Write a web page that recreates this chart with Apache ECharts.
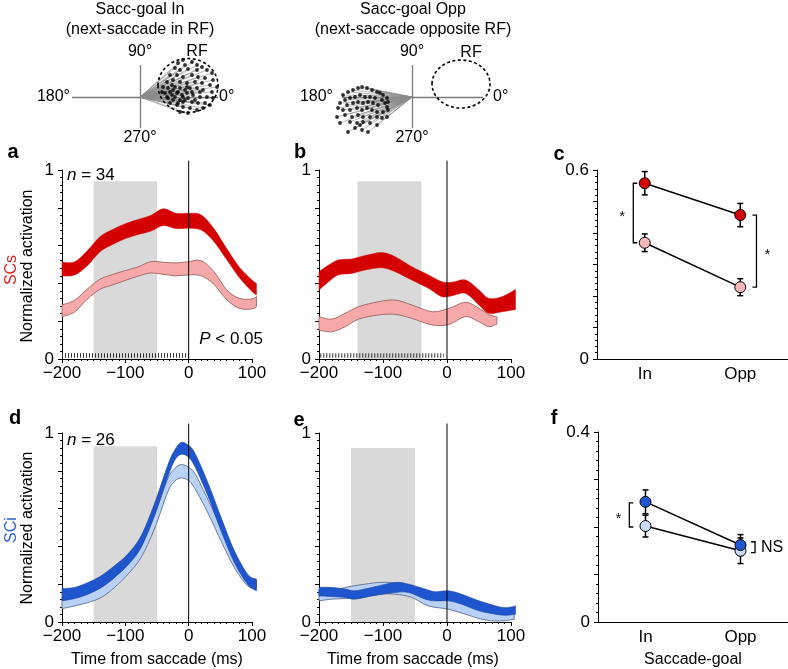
<!DOCTYPE html>
<html><head><meta charset="utf-8">
<script src="https://cdn.jsdelivr.net/npm/echarts@6/dist/echarts.min.js"></script>
<style>html,body{margin:0;padding:0;background:#fff}#c{width:788px;height:669px}</style>
</head><body><div id="c"></div>
<script>
// ---------------- data ----------------
const timeTicks = [-200, -100, 0, 100];
const goalCats = ['In', 'Opp'];

// panel a (SCs, sacc-goal In)
const aTime = [-200,-180,-160,-140,-120,-100,-80,-60,-40,-20,0,20,40,60,80,100,107];
const aDarkHi = [.512,.514,.573,.647,.685,.716,.738,.759,.795,.771,.771,.762,.689,.584,.486,.418,.400];
const aDarkLo = [.439,.445,.494,.568,.606,.637,.659,.676,.706,.690,.692,.682,.621,.526,.431,.357,.339];
const aLightHi = [.286,.311,.370,.422,.447,.468,.487,.515,.512,.508,.515,.520,.462,.366,.321,.318,.330];
const aLightLo = [.224,.249,.317,.369,.392,.416,.438,.455,.448,.440,.445,.440,.395,.314,.268,.265,.277];
const aShade = [-150, -50, 0.94];
const aSig = [-200, 0];

// panel b (SCs, sacc-goal Opp)
const bDarkTime = [-200,-185,-170,-149,-128,-102,-81,-55,-29,-8,8,29,50,65,86,107];
const bDarkHi = [.462,.497,.524,.529,.547,.563,.541,.488,.445,.409,.406,.418,.365,.321,.330,.368];
const bDarkLo = [.365,.409,.445,.453,.471,.483,.462,.418,.374,.330,.335,.347,.286,.242,.250,.262];
const bLightTime = [-200,-180,-159,-138,-107,-81,-55,-23,3,29,50,65,78];
const bLightHi = [.224,.211,.242,.277,.303,.312,.286,.250,.268,.300,.268,.236,.222];
const bLightLo = [.153,.144,.171,.211,.233,.236,.215,.180,.183,.224,.197,.171,.185];
const bShade = [-140, -40, 0.94];
const bSig = [-198, -5];

// panel c (SCs means)
const cDark = [0.558, 0.457];
const cDarkErr = [0.037, 0.037];
const cLight = [0.369, 0.228];
const cLightErr = [0.028, 0.027];
const cBrackets = [[-0.12, 0.369, 0.558, 1], [1.17, 0.228, 0.457, -1]];
const cBracketText = ['*', '*'];

// panel d (SCi, sacc-goal In)
const dTime = [-200,-180,-159,-138,-117,-96,-75,-54,-33,-22,-12,-1,10,31,52,72,93,107];
const dDarkHi = [.177,.183,.209,.245,.298,.360,.457,.626,.830,.910,.950,.936,.892,.732,.546,.378,.253,.227];
const dDarkLo = [.112,.124,.147,.183,.236,.301,.395,.564,.768,.856,.887,.874,.821,.662,.475,.316,.200,.165];
const dLightHi = [.130,.138,.156,.183,.236,.316,.404,.564,.759,.812,.833,.820,.785,.644,.493,.342,.236,.218];
const dLightLo = [.071,.085,.103,.130,.183,.253,.342,.493,.688,.745,.762,.750,.705,.573,.422,.289,.191,.183];
const dShade = [-150, -50, 0.93];

// panel e (SCi, sacc-goal Opp)
const eDarkTime = [-200,-180,-159,-144,-117,-81,-60,-34,-19,2,23,50,76,92,107];
const eDarkHi = [.183,.183,.174,.165,.183,.209,.200,.174,.160,.165,.147,.112,.085,.076,.085];
const eDarkLo = [.138,.135,.130,.121,.138,.156,.156,.121,.112,.112,.094,.059,.041,.036,.041];
const eLightTime = [-200,-180,-159,-138,-107,-81,-55,-29,2,29,55,81,105];
const eLightHi = [.170,.165,.183,.195,.209,.206,.177,.156,.138,.121,.085,.059,.050];
const eLightLo = [.112,.121,.124,.130,.147,.147,.130,.085,.068,.041,.014,.005,.014];
const eShade = [-150, -50, 0.92];

// panel f (SCi means)
const fDark = [0.253, 0.162];
const fDarkErr = [0.025, 0.022];
const fLight = [0.202, 0.150];
const fLightErr = [0.023, 0.027];
const fBrackets = [[-0.17, 0.200, 0.251, 1], [1.153, 0.146, 0.169, -1]];
const fBracketText = ['*', 'NS'];

// schematics: saccade end points (origin = fixation)
const schLAxes = [[[-68,0],[78,0]], [[0,32],[0,-31]]];
const schRAxes = [[[-70,0],[71,0]], [[0,32],[0,-31]]];
const rfL = [48, 11.5, 30, 27];
const rfR = [49, 13, 29, 24];
const schLDots = [[38,34],[45,32],[52,35],[35,29],[40,27],[48,28],[57,32],[62,30],[67,27],[72,24],[30,22],[37,22],[43,20],[52,22],[58,20],[65,19],[73,17],[27,15],[33,17],[40,15],[47,14],[55,15],[62,14],[70,12],[23,10],[28,9],[35,10],[40,9],[45,7],[50,9],[57,9],[63,7],[72,5],[77,10],[25,4],[30,5],[37,4],[42,2],[47,4],[53,2],[60,0],[67,0],[73,-1],[28,-1],[33,-3],[40,-3],[45,-3],[52,-5],[58,-6],[65,-6],[30,-6],[37,-8],[43,-10],[50,-11],[57,-13],[63,-11],[70,-8],[40,-15],[48,-16],[27,0],[32,12],[22,5],[57,27],[43,37],[32,2],[35,0],[38,5],[43,0],[48,-1],[33,7],[47,10],[52,5],[55,-3],[38,-6],[43,-5],[60,5]];
const schRDots = [[-69,2],[-64,5],[-59,7],[-54,9],[-50,10],[-45,9],[-40,7],[-35,5],[-32,4],[-29,2],[-25,-1],[-24,-5],[-27,-6],[-67,-3],[-62,-1],[-57,0],[-52,2],[-47,0],[-42,0],[-37,-1],[-30,-3],[-72,-6],[-65,-8],[-59,-6],[-54,-5],[-49,-6],[-44,-5],[-39,-6],[-34,-8],[-25,-10],[-74,-11],[-69,-13],[-62,-13],[-55,-11],[-50,-13],[-45,-11],[-40,-13],[-35,-15],[-29,-15],[-24,-13],[-75,-20],[-67,-18],[-60,-20],[-54,-18],[-49,-20],[-42,-20],[-35,-20],[-30,-21],[-25,-20],[-72,-26],[-62,-25],[-55,-26],[-49,-25],[-42,-26],[-35,-28],[-57,-31],[-50,-33],[-44,-35],[-64,-35],[-52,-28]];

// ---------------- styling ----------------
const FONT = '"Liberation Sans", Arial, Helvetica, sans-serif';
const RED = '#d40000', PINK = '#f7a9a9', PINK_S = '#9e6262';
const BLUE = '#1f55cf', BLUE_S = '#163f9c', LBLUE = '#b9d0f7', LBLUE_S = '#5c6f93';
const SHADE = '#d9d9d9';

function smoothSeg(pts) {
  let d = '';
  for (let i = 0; i < pts.length - 1; i++) {
    const p0 = pts[i - 1] || pts[i], p1 = pts[i], p2 = pts[i + 1], p3 = pts[i + 2] || p2;
    const c1x = p1[0] + (p2[0] - p0[0]) / 6, c1y = p1[1] + (p2[1] - p0[1]) / 6;
    const c2x = p2[0] - (p3[0] - p1[0]) / 6, c2y = p2[1] - (p3[1] - p1[1]) / 6;
    d += ' C' + c1x + ' ' + c1y + ' ' + c2x + ' ' + c2y + ' ' + p2[0] + ' ' + p2[1];
  }
  return d;
}
function band(ax, times, lo, hi, fill, stroke, lw, z) {
  return {
    type: 'custom', xAxisIndex: ax, yAxisIndex: ax, z: z, silent: true, clip: false,
    data: [[times[0], lo[0]]],
    renderItem: function (p, api) {
      const up = times.map((t, i) => api.coord([t, hi[i]]));
      const dn = times.map((t, i) => api.coord([t, lo[i]])).reverse();
      const d = 'M' + up[0][0] + ' ' + up[0][1] + smoothSeg(up) + ' L' + dn[0][0] + ' ' + dn[0][1] + smoothSeg(dn) + ' Z';
      return { type: 'path', shape: { pathData: d }, style: { fill: fill, stroke: stroke, lineWidth: lw } };
    }
  };
}
function shade(ax, s) {
  return {
    type: 'custom', xAxisIndex: ax, yAxisIndex: ax, z: 1, silent: true,
    data: [[s[0], s[2]]],
    renderItem: function (p, api) {
      const a = api.coord([s[0], s[2]]), b = api.coord([s[1], 0]);
      return { type: 'rect', shape: { x: a[0], y: a[1], width: b[0] - a[0], height: b[1] - a[1] }, style: { fill: SHADE } };
    }
  };
}
function zeroLine(ax) {
  return { type: 'line', xAxisIndex: ax, yAxisIndex: ax, z: 8, silent: true, clip: false, symbol: 'none',
    data: [[0, 0], [0, 1.05]], lineStyle: { color: '#000', width: 1 } };
}
function sigLine(ax, s) {
  return { type: 'line', xAxisIndex: ax, yAxisIndex: ax, z: 2, silent: true, symbol: 'none',
    data: [[s[0], 0.018], [s[1], 0.018]], lineStyle: { color: '#333', width: 4.5, type: [1, 2], cap: 'butt' } };
}
function errBars(ax, mean, err) {
  return {
    type: 'custom', xAxisIndex: ax, yAxisIndex: ax, z: 3, silent: true,
    data: mean.map((m, i) => [i, m - err[i], m + err[i]]),
    renderItem: function (p, api) {
      const lo = api.coord([api.value(0), api.value(1)]);
      const hi = api.coord([api.value(0), api.value(2)]);
      const w = 3, st = { stroke: '#000', lineWidth: 1.5 };
      return { type: 'group', children: [
        { type: 'line', shape: { x1: lo[0], y1: lo[1], x2: hi[0], y2: hi[1] }, style: st },
        { type: 'line', shape: { x1: lo[0] - w, y1: lo[1], x2: lo[0] + w, y2: lo[1] }, style: st },
        { type: 'line', shape: { x1: hi[0] - w, y1: hi[1], x2: hi[0] + w, y2: hi[1] }, style: st }
      ] };
    }
  };
}
function meanLine(ax, mean, fill) {
  return { type: 'line', xAxisIndex: ax, yAxisIndex: ax, z: 4, silent: true, data: mean,
    symbol: 'circle', symbolSize: 11,
    lineStyle: { color: '#000', width: 1.5 },
    itemStyle: { color: fill, borderColor: '#000', borderWidth: 1 } };
}
function brackets(xAx, yAx, data, texts) {
  return {
    type: 'custom', xAxisIndex: xAx, yAxisIndex: yAx, z: 5, silent: true, clip: false,
    data: data,
    renderItem: function (p, api) {
      const x = api.value(0), dir = api.value(3);
      const a = api.coord([x, api.value(1)]), b = api.coord([x, api.value(2)]);
      const t = 4 * dir;
      const label = texts[p.dataIndex];
      const isStar = label === '*';
      const tx = isStar ? a[0] - dir * 11 : a[0] + 6;
      const ty = (a[1] + b[1]) / 2 + (isStar ? 4 : 0);
      return { type: 'group', children: [
        { type: 'polyline', shape: { points: [[a[0] + t, a[1]], a, b, [b[0] + t, b[1]]] }, style: { stroke: '#000', lineWidth: 1.3, fill: null } },
        { type: 'text', x: tx, y: ty, style: { text: label, fill: '#000', font: (isStar ? '14px ' : '16px ') + FONT,
          align: isStar ? 'center' : 'left', verticalAlign: 'middle', textAlign: isStar ? 'center' : 'left', textVerticalAlign: 'middle' } }
      ] };
    }
  };
}
function schSeries(ax, axes, dots, rf) {
  return [
    { type: 'lines', coordinateSystem: 'cartesian2d', xAxisIndex: ax + 8, yAxisIndex: ax + 6, z: 2, silent: true,
      data: axes.map(c => ({ coords: c })), lineStyle: { color: '#7a7a7a', width: 1.3, opacity: 1 } },
    { type: 'lines', coordinateSystem: 'cartesian2d', xAxisIndex: ax + 8, yAxisIndex: ax + 6, z: 3, silent: true,
      data: dots.map(d => ({ coords: [[0, 0], d] })), lineStyle: { color: '#8a8a8a', width: 0.7, opacity: 0.85 } },
    { type: 'scatter', xAxisIndex: ax + 8, yAxisIndex: ax + 6, z: 4, silent: true, symbolSize: 3.8,
      data: dots, itemStyle: { color: '#000' } },
    { type: 'custom', xAxisIndex: ax + 8, yAxisIndex: ax + 6, z: 5, silent: true, data: [rf],
      renderItem: function (p, api) {
        const c = api.coord([api.value(0), api.value(1)]);
        const s = api.size([api.value(2), api.value(3)]);
        return { type: 'ellipse', shape: { cx: c[0], cy: c[1], rx: s[0], ry: s[1] },
          style: { fill: null, stroke: '#000', lineWidth: 1.6, lineDash: [3, 2.5] } };
      } }
  ];
}

function timeX(g) {
  return { gridIndex: g, type: 'value', min: timeTicks[0], max: timeTicks[timeTicks.length - 1], interval: 100,
    axisLine: { onZero: false, lineStyle: { color: '#000', width: 1 } },
    axisTick: { length: 4, lineStyle: { color: '#000' } },
    minorTick: { show: true, splitNumber: 10, length: 2, lineStyle: { color: '#000' } },
    splitLine: { show: false }, minorSplitLine: { show: false },
    axisLabel: { fontSize: 17, color: '#000', fontFamily: FONT, margin: 6,
      formatter: v => String(v).replace('-', '\u2212') } };
}
function valY(g, max, interval) {
  return { gridIndex: g, type: 'value', min: 0, max: max, interval: interval, position: 'left',
    axisLine: { show: true, onZero: false, lineStyle: { color: '#000', width: 1 } },
    axisTick: { show: true, length: 4, lineStyle: { color: '#000' } },
    minorTick: { show: true, splitNumber: 5, length: 2, lineStyle: { color: '#000' } },
    splitLine: { show: false }, minorSplitLine: { show: false },
    axisLabel: { fontSize: 17, color: '#000', fontFamily: FONT, margin: 8,
      formatter: v => (Math.abs(v) < 1e-9 ? '0' : (Math.abs(v - max) < 1e-9 ? String(max) : '')) } };
}
function catX(g) {
  return { gridIndex: g, type: 'category', data: goalCats, boundaryGap: true,
    axisLine: { onZero: false, lineStyle: { color: '#000', width: 1 } },
    axisTick: { alignWithLabel: true, length: 4, lineStyle: { color: '#000' } },
    axisLabel: { fontSize: 17, color: '#000', fontFamily: FONT, margin: 7 } };
}
function hidden(g, min, max) { return { gridIndex: g, type: 'value', min: min, max: max, show: false, axisLine: { onZero: false } }; }

const G = (l, t, w, h) => ({ left: l, top: t, width: w, height: h, containLabel: false, outerBoundsMode: 'none' });

function txt(text, x, y, o) {
  o = o || {};
  return { type: 'text', x: x, y: y, rotation: o.rot || 0, silent: true,
    style: { text: text, fill: o.color || '#000', font: (o.weight || 'normal') + ' ' + (o.size || 16) + 'px ' + FONT,
      align: o.align || 'center', verticalAlign: 'middle', textAlign: o.align || 'center', textVerticalAlign: 'middle',
      rich: { i: { fontStyle: 'italic', fontSize: o.size || 16, fontFamily: FONT } } } };
}

const option = {
  animation: false,
  backgroundColor: '#fff',
  grid: [
    G(62, 170, 190, 189), G(319, 170, 192, 189), G(597, 170, 191, 189),
    G(62, 433, 190, 189), G(319, 433, 192, 189), G(598, 432, 190, 190),
    G(70, 57, 160, 80), G(322, 57, 180, 80)
  ],
  xAxis: [timeX(0), timeX(1), catX(2), timeX(3), timeX(4), catX(5),
    hidden(2, -0.5, 1.5), hidden(5, -0.5, 1.5), hidden(6, -70, 90), hidden(7, -90, 90)],
  yAxis: [valY(0, 1, 0.2), valY(1, 1, 0.2), valY(2, 0.6, 0.1), valY(3, 1, 0.2), valY(4, 1, 0.2), valY(5, 0.4, 0.1),
    hidden(6, -40, 40), hidden(7, -40, 40)],
  series: [
    shade(0, aShade), sigLine(0, aSig),
    band(0, aTime, aDarkLo, aDarkHi, RED, RED, 0.5, 3),
    band(0, aTime, aLightLo, aLightHi, PINK, PINK_S, 0.9, 4),
    zeroLine(0),
    shade(1, bShade), sigLine(1, bSig),
    band(1, bDarkTime, bDarkLo, bDarkHi, RED, RED, 0.5, 3),
    band(1, bLightTime, bLightLo, bLightHi, PINK, PINK_S, 0.9, 4),
    zeroLine(1),
    errBars(2, cLight, cLightErr), errBars(2, cDark, cDarkErr),
    meanLine(2, cLight, '#f6b8b8'), meanLine(2, cDark, RED),
    brackets(6, 2, cBrackets, cBracketText),
    shade(3, dShade),
    band(3, dTime, dLightLo, dLightHi, LBLUE, LBLUE_S, 0.9, 3),
    band(3, dTime, dDarkLo, dDarkHi, BLUE, BLUE_S, 0.6, 4),
    zeroLine(3),
    shade(4, eShade),
    band(4, eLightTime, eLightLo, eLightHi, LBLUE, LBLUE_S, 0.9, 3),
    band(4, eDarkTime, eDarkLo, eDarkHi, BLUE, BLUE_S, 0.6, 4),
    zeroLine(4),
    errBars(5, fLight, fLightErr), errBars(5, fDark, fDarkErr),
    meanLine(5, fLight, '#c9dbf7'), meanLine(5, fDark, BLUE),
    brackets(7, 5, fBrackets, fBracketText)
  ].concat(schSeries(0, schLAxes, schLDots, rfL), schSeries(1, schRAxes, schRDots, rfR)),
  graphic: [
    txt('Sacc-goal In', 140, 10), txt('(next-saccade in RF)', 140, 30),
    txt('Sacc-goal Opp', 413, 10), txt('(next-saccade opposite RF)', 413, 30),
    txt('90°', 140, 52), txt('270°', 140, 138), txt('180°', 70, 97, { align: 'right' }), txt('0°', 219, 97, { align: 'left' }), txt('RF', 197, 52),
    txt('90°', 412, 52), txt('270°', 412, 138), txt('180°', 333, 97, { align: 'right' }), txt('0°', 493, 97, { align: 'left' }), txt('RF', 471, 53),
    txt('a', 13, 152, { size: 20, weight: 'bold' }), txt('b', 300, 152, { size: 20, weight: 'bold' }), txt('c', 559, 154, { size: 20, weight: 'bold' }),
    txt('d', 15, 418, { size: 20, weight: 'bold' }), txt('e', 299, 420, { size: 20, weight: 'bold' }), txt('f', 554, 418, { size: 20, weight: 'bold' }),
    txt('SCs', 12, 270, { rot: Math.PI / 2, color: '#e2211c' }),
    txt('Normalized activation', 28, 266, { rot: Math.PI / 2 }),
    txt('SCi', 12, 530, { rot: Math.PI / 2, color: '#2f62d2' }),
    txt('Normalized activation', 28, 528, { rot: Math.PI / 2 }),
    txt('{i|n} = 34', 67, 175, { align: 'left', size: 17 }),
    txt('{i|n} = 26', 67, 440, { align: 'left', size: 17 }),
    txt('{i|P} < 0.05', 263, 339, { align: 'right', size: 17 }),
    txt('Time from saccade (ms)', 157, 660), txt('Time from saccade (ms)', 413, 660),
    txt('Saccade-goal', 693, 660)
  ]
};

const chart = echarts.init(document.getElementById('c'), null, { renderer: 'canvas', width: 788, height: 669 });
chart.setOption(option);
</script>
</body></html>
